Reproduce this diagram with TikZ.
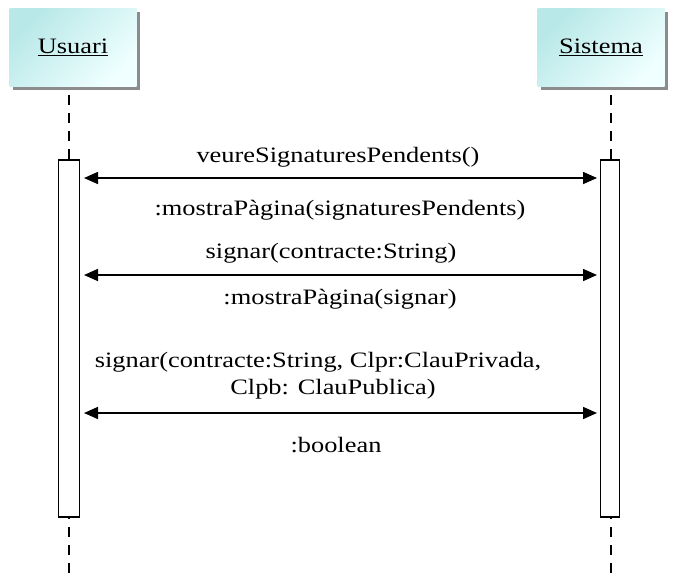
\documentclass[tikz,border=0pt]{standalone}
\usepackage{fontspec}
\setmainfont{Liberation Serif}
\usetikzlibrary{arrows.meta,shadows}
% widened text, as the labels are set slightly stretched
\newcommand\widetext[1]{\scalebox{1.2}[1]{#1}}
\begin{document}
\begin{tikzpicture}[x=1pt,y=-1pt,
  actor/.style={draw=none,minimum width=127pt,minimum height=78pt,
    left color=cyan!35!teal!28!white, right color=cyan!6!white,
    shading angle=45,
    drop shadow={shadow xshift=3pt,shadow yshift=-4pt,fill=black!45,opacity=1},
    font=\fontsize{22}{27}\selectfont},
  bar/.style={draw,line width=1.4pt,fill=white,inner sep=0pt,minimum height=357pt},
  life/.style={line width=1.6pt,dash pattern=on 10pt off 8pt},
  msg/.style={line width=1.6pt,{Triangle[length=14pt,width=12pt]}-{Triangle[length=14pt,width=12pt]}},
  lbl/.style={font=\fontsize{22}{27}\selectfont,align=center,anchor=base,inner sep=0pt}]
\useasboundingbox (0,0) rectangle (674,576);
% lifelines
\coordinate (uTop) at (69,95);
\coordinate (uBot) at (69,576);
\coordinate (sTop) at (611,95);
\coordinate (sBot) at (611,576);
\draw[life] (uTop) -- (uBot);
\draw[life] (sTop) -- (sBot);
% participants
\node[actor] (usuari) at (73,47) {\widetext{\underline{Usuari}}};
\node[actor] (sistema) at (601,47) {\widetext{\underline{Sistema}}};
% activation bars
\node[bar,minimum width=21pt] (ua) at (69,338.5) {};
\node[bar,minimum width=19pt] (sa) at (610,338.5) {};
% messages
\coordinate (m1l) at (84,178);  \coordinate (m1r) at (597,178);
\coordinate (m2l) at (84,275);  \coordinate (m2r) at (597,275);
\coordinate (m3l) at (84,413);  \coordinate (m3r) at (597,413);
\draw[msg] (m1l) -- (m1r);
\draw[msg] (m2l) -- (m2r);
\draw[msg] (m3l) -- (m3r);
% labels
\node[lbl] (t1) at (338,162) {\widetext{veureSignaturesPendents()}};
\node[lbl] (t2) at (340,215) {\widetext{:mostraPàgina(signaturesPendents)}};
\node[lbl] (t3) at (331,258) {\widetext{signar(contracte:String)}};
\node[lbl] (t4) at (340,304) {\widetext{:mostraPàgina(signar)}};
\node[lbl,anchor=north] (t5) at (333,352) {\widetext{signar(contracte:String, Clpr:ClauPrivada,}\hspace*{30pt}\\\widetext{Clpb: ClauPublica)}};
\node[lbl] (t6) at (336,452) {\widetext{:boolean}};
\end{tikzpicture}
\end{document}
